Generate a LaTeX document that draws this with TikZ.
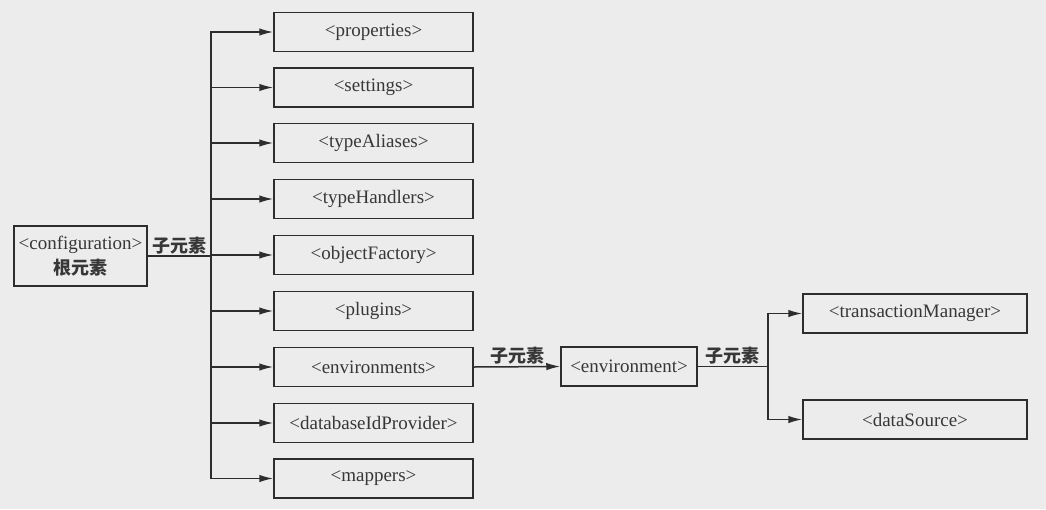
\documentclass[tikz,border=0pt]{standalone}
\usepackage{fontspec}
\setmainfont{Liberation Serif}
\newfontfamily\cjk{Noto Sans CJK SC}
\usetikzlibrary{arrows.meta}
\definecolor{bg}{RGB}{236,236,236}
\definecolor{ink}{RGB}{45,45,45}
\definecolor{txt}{RGB}{55,55,55}
\tikzset{
  box/.style={draw=ink, line width=1.5pt, minimum height=39pt, inner sep=2pt,
    font=\fontsize{19}{22}\selectfont, text=txt},
  child/.style={box, minimum width=199pt},
  conn/.style={draw=ink, line width=1.5pt},
  arr/.style={conn, -{Latex[length=14pt,width=7.5pt]}},
  lbl/.style={font=\cjk\bfseries\fontsize{18}{20}\selectfont, text=txt, inner sep=1.5pt, above}
}
\begin{document}
\begin{tikzpicture}[x=1pt,y=-1pt]
\fill[bg] (0,0) rectangle (1046,509);
\useasboundingbox (0,0) rectangle (1046,509);

\node[box, minimum width=133pt, minimum height=60pt, align=center] (config) at (80.5,256)
  {<configuration>\\[3pt]{\cjk\bfseries\fontsize{18}{20}\selectfont 根元素}};

\node[child] (properties) at (373.5,32) {<properties>};
\node[child] (settings) at (373.5,87.5) {<settings>};
\node[child] (typeAliases) at (373.5,143) {<typeAliases>};
\node[child] (typeHandlers) at (373.5,199) {<typeHandlers>};
\node[child] (objectFactory) at (373.5,255) {<objectFactory>};
\node[child] (plugins) at (373.5,311) {<plugins>};
\node[child] (environments) at (373.5,367) {<environments>};
\node[child] (databaseIdProvider) at (373.5,423) {<databaseIdProvider>};
\node[child] (mappers) at (373.5,478.5) {<mappers>};

\node[box, minimum width=136pt] (environment) at (629,366.5) {<environment>};
\node[box, minimum width=224pt] (transactionManager) at (915,313.5) {<transactionManager>};
\node[box, minimum width=224pt] (dataSource) at (915,419.5) {<dataSource>};

\coordinate (bus) at (211,256);
\draw[conn] (config.east) -- node[lbl] {子元素} (bus);
\foreach \c in {properties,settings,typeAliases,typeHandlers,objectFactory,plugins,environments,databaseIdProvider,mappers}
  \draw[arr] (bus) |- (\c.west);

\draw[arr] (environments.east) -- node[lbl] {子元素} (environment.west);

\coordinate (bus2) at (768,366.5);
\draw[conn] (environment.east) -- node[lbl] {子元素} (bus2);
\draw[arr] (bus2) |- (transactionManager.west);
\draw[arr] (bus2) |- (dataSource.west);
\end{tikzpicture}
\end{document}
